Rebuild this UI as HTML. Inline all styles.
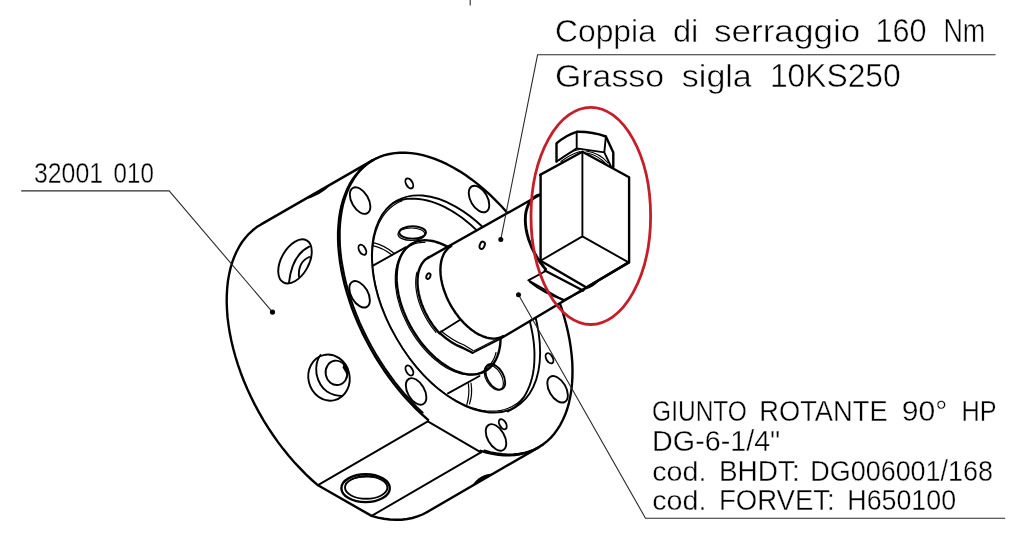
<!DOCTYPE html>
<html><head><meta charset="utf-8"><style>
html,body{margin:0;padding:0;background:#fff;}
svg{display:block;}
text{font-family:"Liberation Sans",sans-serif;fill:#000;stroke:#fff;stroke-width:0.4px;}
path,ellipse{fill:none;stroke:#000;stroke-linejoin:round;stroke-linecap:round;}
.k{stroke-width:2.4}
.k2{stroke-width:2.9}
.m{stroke-width:1.9}
.t{stroke-width:1.2}
.l{stroke-width:1.1;stroke:#2a2a2a;stroke-linecap:butt}
.fk{fill:#000;stroke:none}
.w{fill:#fff;stroke:none}
.red{fill:none;stroke:#c61e28;stroke-width:2.8}
</style></head><body>
<svg width="1024" height="533" viewBox="0 0 1024 533">
<path d="M372.4 160.4L261.1 224.4L256.7 227.1L252.7 230.3L248.9 233.8L245.4 237.7L242.1 242L239.2 246.7L236.5 251.7L234.2 257L232.1 262.7L230.4 268.6L229 274.9L227.9 281.4L227.2 288.1L226.8 295.1L226.7 302.3L227 309.6L227.5 317.2L228.5 324.8L229.7 332.6L231.3 340.5L233.2 348.5L235.4 356.5L237.9 364.6L240.7 372.7L243.8 380.8L247.2 388.8L250.9 396.8L254.8 404.6L259 412.4L263.4 420.1L268.1 427.6L273 435L278 442.1L283.3 449.1L288.7 455.8L294.3 462.2L300.1 468.4L305.9 474.4L311.9 480L318 485.3L371.6 515.9L371.6 515.9L377.8 517.6L383.9 518.8L390 519.5L395.8 519.8L401.5 519.7L407.1 519L412.4 518L417.5 516.4L422.5 514.5L427.2 512" class="k"/>
<path class="fk" d="M304 199.8Q320 196.5 332 183.8Z"/>
<path d="M427.2 512L538.2 447.6" class="k"/>
<path class="fk" d="M471.5 486.6Q479.5 473.5 494.5 473.6Z"/>
<path d="M318 485.1L427.8 421.4" class="m"/>
<path d="M371.6 515.9L480.9 452.4" class="m"/>
<path d="M427.8 421.4L480.9 452.4" class="m"/>
<path d="M428.1 419.9L422.2 414.7L416.3 409.1L410.6 403.2L405 397.1L399.5 390.7L394.1 384.1L389 377.2L384 370.2L379.2 362.9L374.6 355.5L370.3 348L366.2 340.3L362.3 332.6L358.7 324.7L355.3 316.8L352.2 308.9L349.5 300.9L347 293L344.8 285.1L342.9 277.2L341.3 269.4L340 261.7L339.1 254.2L338.4 246.7L338.1 239.5L338.1 232.4L338.5 225.5L339.1 218.8L340.1 212.3L341.4 206.1L343 200.2L345 194.6L347.2 189.2L349.7 184.2L352.5 179.5L355.7 175.2L359 171.2L362.7 167.5L366.6 164.3L370.7 161.4L375.1 159L379.7 156.9L384.5 155.2L389.5 154L394.7 153.1L400 152.7L405.5 152.7L411.2 153.1L416.9 153.9L422.8 155.2L428.8 156.8L434.8 158.9L440.9 161.4L447 164.2L453.2 167.5L459.3 171.1L465.5 175.1L471.6 179.4L477.7 184.1L483.7 189.1L489.6 194.4L495.4 200.1L501.2 206L506.8 212.2L512.2 218.6L517.5 225.3L522.7 232.2L527.6 239.3L532.3 246.6L536.9 254L541.2 261.6L545.3 269.2L549.1 277L552.6 284.9L555.9 292.8L558.9 300.7L561.7 308.7L564.1 316.6L566.2 324.5L568.1 332.4L569.6 340.1L570.8 347.8L571.7 355.3L572.3 362.8L572.5 370L572.4 377.1L572 383.9L571.3 390.6L570.2 397L568.9 403.1L567.2 409L565.2 414.6L562.9 419.8L560.3 424.8L557.4 429.4L554.3 433.7L550.9 437.6L547.2 441.1L543.2 444.3L539 447.1L534.6 449.5L530 451.5L525.1 453.1L520.1 454.2L514.8 455L509.5 455.3L503.9 455.2L498.3 454.7L492.5 453.8L486.6 452.5L480.6 450.8" class="k"/>
<path d="M422.7 412.7L416.9 407.1L411.2 401.2L405.6 395L400.2 388.6L394.9 382L389.8 375.1L384.8 368L380.1 360.8L375.6 353.4L371.3 345.9L367.2 338.2L363.4 330.4L359.8 322.6L356.5 314.7L353.5 306.8L350.7 298.9L348.3 291L346.1 283.1L344.3 275.3L342.8 267.5L341.5 259.9L340.6 252.3L340 245L339.8 237.7L339.8 230.7L340.2 223.8L340.9 217.2L341.9 210.8L343.2 204.6L344.9 198.7L346.8 193.1L349 187.8L351.6 182.9L354.4 178.2L357.5 173.9L360.9 170L364.6 166.4L368.5 163.1L372.6 160.3L377 157.9" class="m"/>
<path d="M542.7 444.9L538.3 447.5L533.7 449.7L528.9 451.5L523.9 452.8L518.7 453.8L513.3 454.3L507.8 454.4L502.1 454L496.3 453.3L490.4 452.1L484.4 450.5" class="m"/>
<ellipse cx="456" cy="304" rx="119" ry="68.7" transform="rotate(60 456 304)" class="m"/>
<path d="M522.6 398.4L520 400.9L517.3 403.2L514.4 405.1L511.3 406.9L508.1 408.3L504.7 409.5L501.2 410.3L497.5 410.9L493.7 411.2L489.9 411.2L485.9 410.9L481.9 410.3L477.7 409.4L473.6 408.2L469.3 406.8L465 405.1L460.7 403L456.4 400.8L452.1 398.2L447.8 395.4L443.5 392.4L439.2 389.1L435 385.6L430.8 381.8L426.7 377.9L422.7 373.7L418.8 369.4L415 364.9L411.2 360.2L407.6 355.3L404.1 350.4L400.8 345.3L397.6 340.1L394.6 334.7L391.7 329.4L389 323.9L386.5 318.4L384.2 312.8L382.1 307.3L380.1 301.7L378.4 296.1L376.9 290.5L375.6 285L374.5 279.6L373.7 274.2L373 268.9L372.6 263.7L372.4 258.6L372.4 253.6L372.7 248.8L373.2 244.1L373.9 239.6L374.8 235.3L376 231.1L377.4 227.2L378.9 223.4L380.7 219.9L382.7 216.7L384.9 213.6L387.3 210.8L389.9 208.3L392.6 206L395.6 204.1L398.6 202.3L401.9 200.9" class="t"/>
<path d="M393 203.1L396.3 201.6L399.7 200.4L403.3 199.5L407 198.9L410.9 198.7L414.8 198.7L418.8 199L423 199.6L427.2 200.5L431.4 201.7L435.7 203.1L440.1 204.9L444.5 206.9L448.9 209.3L453.3 211.9L457.7 214.7L462.1 217.8L466.4 221.2L470.7 224.7L474.9 228.6L479.1 232.6L483.2 236.8L487.2 241.2L491.1 245.8L494.9 250.6L498.6 255.5L502.1 260.6L505.5 265.8L508.8 271.1L511.9 276.5L514.8 282L517.5 287.6L520.1 293.2L522.5 298.9L524.6 304.5L526.6 310.2L528.4 315.9L529.9 321.6L531.2 327.2L532.3 332.7L533.2 338.2L533.9 343.6L534.3 349L534.5 354.1L534.4 359.2L534.2 364.1L533.7 368.9L533 373.5L532 377.9L530.8 382.1L529.4 386.1L527.8 389.9L526 393.5L524 396.9L521.7 399.9L519.3 402.8L516.7 405.4L513.9 407.7L510.9 409.7L507.8 411.4" class="m"/>
<ellipse cx="360.1" cy="200.6" rx="14.5" ry="8.4" transform="rotate(60 360.1 200.6)" class="m"/>
<ellipse cx="479" cy="199" rx="14.5" ry="8.4" transform="rotate(60 479 199)" class="m"/>
<ellipse cx="359.6" cy="294.3" rx="14.5" ry="8.4" transform="rotate(60 359.6 294.3)" class="m"/>
<ellipse cx="416.1" cy="391.4" rx="14.5" ry="8.4" transform="rotate(60 416.1 391.4)" class="m"/>
<ellipse cx="496" cy="437.4" rx="14.5" ry="8.4" transform="rotate(60 496 437.4)" class="m"/>
<ellipse cx="557.6" cy="389.3" rx="14.5" ry="8.4" transform="rotate(60 557.6 389.3)" class="m"/>
<ellipse cx="409.3" cy="183.4" rx="5.5" ry="3.2" transform="rotate(60 409.3 183.4)" class="m"/>
<ellipse cx="362.4" cy="249.8" rx="5.5" ry="3.2" transform="rotate(60 362.4 249.8)" class="m"/>
<ellipse cx="409.4" cy="370.5" rx="5.5" ry="3.2" transform="rotate(60 409.4 370.5)" class="m"/>
<ellipse cx="549.5" cy="358.3" rx="5.5" ry="3.2" transform="rotate(60 549.5 358.3)" class="m"/>
<ellipse cx="502.8" cy="424.2" rx="5.5" ry="3.2" transform="rotate(60 502.8 424.2)" class="m"/>
<ellipse cx="495.3" cy="376.8" rx="14" ry="8.1" transform="rotate(60 495.3 376.8)" class="m"/>
<ellipse cx="493.8" cy="377.6" rx="13.6" ry="7.8" transform="rotate(60 493.8 377.6)" class="t"/>
<path d="M373 265.6L406 247.2" class="m"/>
<path d="M448 393.3L479.5 376" class="m"/>
<path d="M373 242.6Q384 245 394 253.2M372.8 245.6Q383 247.8 392 255" class="t"/>
<path d="M468.3 383.5Q470 394 466.8 404.6M471 383Q472.8 394 469.5 404" class="t"/>
<ellipse class="m" cx="412.6" cy="232.4" rx="13.4" ry="6.2"/>
<ellipse class="t" cx="411.4" cy="234.2" rx="13.4" ry="6.2"/>
<path d="M448.6 247.4L445.9 245.9L443.1 244.6L440.4 243.4L437.7 242.5L435.1 241.7L432.5 241L429.9 240.6L427.4 240.4L424.9 240.3L422.5 240.4L420.2 240.7L417.9 241.2L415.8 241.9L413.7 242.8L411.7 243.8L409.9 245L408.1 246.4L406.4 248L404.9 249.7L403.5 251.5L402.2 253.6L401 255.8L400 258.1L399.1 260.5L398.3 263.1L397.7 265.8L397.2 268.7L396.9 271.6L396.7 274.6L396.6 277.7L396.7 280.9L397 284.2L397.3 287.6L397.9 290.9L398.5 294.4L399.3 297.9L400.2 301.4L401.3 304.9L402.5 308.4L403.8 311.9L405.3 315.4L406.8 318.9L408.5 322.4L410.3 325.8L412.2 329.2L414.2 332.5L416.3 335.7L418.5 338.9L420.7 341.9L423.1 344.9L425.5 347.8L428 350.5L430.5 353.2L433.1 355.7L435.7 358.1L438.4 360.3L441.1 362.4L443.8 364.3L446.5 366.1L449.2 367.8L452 369.2L454.7 370.5L457.4 371.6L460.1 372.5L462.7 373.3L465.3 373.9L467.9 374.3L470.4 374.5L472.8 374.5L475.2 374.3L477.5 374L479.7 373.4L481.9 372.7L483.9 371.8L485.9 370.7L487.7 369.5L489.5 368.1L491.1 366.5L492.6 364.7L494 362.8L495.3 360.7L496.4 358.5L497.4 356.2L498.3 353.7L499 351.1L499.6 348.3L500.1 345.5L500.4 342.5L500.5 339.5" class="k"/>
<path d="M424.8 242.4L422.4 242.4L420.1 242.6L417.8 243L415.6 243.5L413.5 244.3L411.5 245.2L409.5 246.3L407.7 247.5L406 248.9L404.4 250.5L402.9 252.3L401.6 254.2L400.3 256.3L399.2 258.5L398.2 260.8L397.4 263.3L396.7 265.9L396.1 268.7L395.7 271.5L395.4 274.5L395.3 277.5L395.3 280.6L395.4 283.8L395.7 287.1L396.2 290.5L396.7 293.8L397.4 297.3L398.3 300.7L399.3 304.2L400.4 307.7L401.6 311.2L403 314.7L404.5 318.1L406.1 321.6L407.8 325L409.6 328.4L411.6 331.7L413.6 334.9L415.7 338.1L417.9 341.2L420.2 344.2L422.6 347.1L425 349.8L427.5 352.5L430 355.1L432.6 357.5L435.2 359.8L437.9 361.9L440.5 363.9L443.2 365.8L445.9 367.4L448.7 369L451.4 370.3L454 371.5L456.7 372.5L459.3 373.3L461.9 374L464.5 374.4L467 374.7L469.5 374.8L471.9 374.7L474.2 374.4L476.4 373.9L478.6 373.3L480.6 372.5L482.6 371.5L484.5 370.3L486.2 369L487.9 367.4L489.4 365.8L490.9 363.9L492.1 361.9L493.3 359.8L494.4 357.5L495.3 355.1L496 352.5" class="t"/>
<path d="M428.3 257.5L427 258.4L425.7 259.3L424.5 260.4L423.4 261.7L422.4 263L421.5 264.4L420.7 266L419.9 267.6L419.3 269.3L418.7 271.2L418.3 273.1L417.9 275.1L417.7 277.1L417.5 279.3L417.5 281.5L417.5 283.8L417.7 286.1L417.9 288.5L418.3 290.9L418.7 293.3L419.3 295.8L419.9 298.3L420.7 300.8L421.5 303.3L422.4 305.8L423.4 308.3L424.5 310.7L425.7 313.2L427 315.6L428.3 318L429.7 320.4L431.2 322.7L432.7 324.9L434.3 327.1L436 329.2L437.7 331.3L439.4 333.3" class="k"/>
<path d="M417 272.2L416.5 274.1L416.2 276.1L415.9 278.1L415.8 280.3L415.7 282.5L415.8 284.8L415.9 287.1L416.2 289.5L416.5 291.9L417 294.3L417.5 296.8L418.2 299.3L418.9 301.8L419.8 304.3L420.7 306.8L421.7 309.3L422.8 311.7L424 314.2L425.2 316.6L426.6 319L428 321.4L429.5 323.7L431 325.9L432.6 328.1L434.3 330.2L436 332.3" class="t"/>
<path d="M439.5 332.8L459.8 320" class="m"/>
<path d="M439.5 332.8Q452 344 462 347.5L472.5 352.8" class="k"/>
<path d="M441 331Q454 341.5 464 345L473 350.5" class="t"/>
<path d="M472.5 353L501 338.5" class="m"/>
<path d="M474 350.8L500 337.5" class="t"/>
<path class="w" d="M451.2 246.1L449.9 246.9L448.6 247.9L447.5 249L446.4 250.2L445.4 251.5L444.4 252.9L443.6 254.4L442.9 256.1L442.2 257.8L441.7 259.6L441.2 261.5L440.9 263.5L440.6 265.5L440.5 267.7L440.4 269.9L440.5 272.1L440.6 274.4L440.9 276.8L441.2 279.2L441.7 281.6L442.2 284L442.9 286.5L443.6 289L444.5 291.5L445.4 293.9L446.4 296.4L447.5 298.9L448.6 301.3L449.9 303.7L451.2 306.1L452.6 308.4L454.1 310.7L455.6 313L457.2 315.1L458.8 317.2L460.5 319.3L462.3 321.2L464 323.1L465.9 324.9L467.7 326.6L469.6 328.2L471.5 329.7L473.4 331.1L475.3 332.4L477.2 333.6L479.1 334.6L481.1 335.5L483 336.4L484.9 337L486.7 337.6L488.6 338L490.4 338.3L492.2 338.5L493.9 338.6L495.6 338.5L497.2 338.3L498.8 337.9L500.3 337.5L501.8 336.9L503.2 336.1L628.6 262.4L629.1 177.2L582.4 151.8L540.1 174.9L539 195.3Z"/>
<path d="M451.2 246.1L449.9 246.9L448.6 247.9L447.5 249L446.4 250.2L445.4 251.5L444.4 252.9L443.6 254.4L442.9 256.1L442.2 257.8L441.7 259.6L441.2 261.5L440.9 263.5L440.6 265.5L440.5 267.7L440.4 269.9L440.5 272.1L440.6 274.4L440.9 276.8L441.2 279.2L441.7 281.6L442.2 284L442.9 286.5L443.6 289L444.5 291.5L445.4 293.9L446.4 296.4L447.5 298.9L448.6 301.3L449.9 303.7L451.2 306.1L452.6 308.4L454.1 310.7L455.6 313L457.2 315.1L458.8 317.2L460.5 319.3L462.3 321.2L464 323.1L465.9 324.9L467.7 326.6L469.6 328.2L471.5 329.7L473.4 331.1L475.3 332.4L477.2 333.6L479.1 334.6L481.1 335.5L483 336.4L484.9 337L486.7 337.6L488.6 338L490.4 338.3L492.2 338.5L493.9 338.6L495.6 338.5L497.2 338.3L498.8 337.9L500.3 337.5L501.8 336.9L503.2 336.1" class="k"/>
<path d="M428 257.9L539 195.3" class="k"/>
<path d="M501 338.2L628.6 262.4" class="k"/>
<path d="M539.2 194.9L537.7 195.4L536.3 196.1L535 196.9L533.7 197.9L532.5 198.9L531.4 200.1L530.4 201.4L529.4 202.8L528.6 204.3L527.8 205.9L527.2 207.7L526.6 209.5L526.1 211.4L525.8 213.3L525.5 215.4L525.4 217.5L525.3 219.7L525.4 222L525.5 224.3L525.8 226.6L526.1 229L526.6 231.4L527.1 233.9L527.8 236.4L528.5 238.9L529.4 241.3L530.3 243.8L531.3 246.3L532.4 248.8L533.6 251.2L534.9 253.6L536.2 256L537.6 258.3L539.1 260.6L540.7 262.8L542.3 265L543.9 267.1L545.6 269.1" class="k2"/>
<ellipse cx="482.2" cy="245.3" rx="3.8" ry="2.4" transform="rotate(-68 482.2 245.3)" class="m"/>
<ellipse cx="428.4" cy="276.1" rx="3" ry="1.9" transform="rotate(-68 428.4 276.1)" class="m"/>
<ellipse class="k" cx="365.6" cy="488.2" rx="24.2" ry="13.9"/>
<ellipse class="m" cx="366.2" cy="487.6" rx="21.2" ry="11.2"/>
<path class="fk" d="M352 478.5Q366 472 380 478.5Q366 475.5 352 479.5Z"/>
<path d="M540.1 174.9L582.4 151.8L629.1 177.2V262.4L586.5 287.5L540.6 260.7V174.9Z" class="k"/>
<path d="M582.4 151.8V236.4L540.6 260.7M582.4 236.4L628.6 262.4" class="m"/>
<path d="M544.8 270.5L583 290.5" class="k"/>
<path d="M544.8 271.5L528.3 280.3L563.3 300.4L584 290" class="m"/>
<path d="M530 282Q545 294 563 299.5" class="m"/>
<path class="fk" d="M584.5 290Q594 287.5 600.5 279.5Z"/>
<path d="M556.5 161.5V143.4Q566 135 576.7 131.8Q592 131.5 605.9 136.5L613.3 152.4V167" class="k"/>
<path d="M576.7 131.8V148.4L556.5 161.5M576.7 148.4L604.3 152.4L611 166.5M605.9 136.5L604.3 152.4" class="m"/>
<path d="M559.5 160Q568 152 579 149.5M586 151Q600 153 608 163" class="t"/>
<path d="M561 161.5Q570 154.5 580 151.5M587 153Q598 155 606 164" class="t"/>
<ellipse class="m" cx="295" cy="261.4" rx="24" ry="13.8" transform="rotate(-61 295 261.4)"/>
<path d="M309.2 246.7Q292 255 289 282.7" class="m"/>
<path d="M309.2 257Q298 262 298.9 276.7" class="m"/>
<ellipse class="m" cx="329" cy="377.6" rx="23.2" ry="20.6" transform="rotate(76 329 377.6)"/>
<path d="M320.5 355Q315 362 316.5 374Q319 386 327 391.5Q334 396 342 396" class="m"/>
<ellipse class="m" cx="336.5" cy="372.8" rx="12.2" ry="10.9" transform="rotate(80 336.5 372.8)"/>
<path class="fk" d="M343.5 364.5Q348 369 347.5 377Q345 371 342.5 367.5Z"/>

<path class="l" d="M470.2 0V5.5" style="stroke-linecap:butt"/>
<path class="l" d="M995.6 54.7H537.6L500.8 239.4"/>
<circle cx="500.8" cy="239.4" r="2.5"/>
<path class="l" d="M21.2 190.9H169.2L272.5 312.1"/>
<circle cx="272.5" cy="312.1" r="2.6"/>
<path class="l" d="M1005.2 518.2H645.5L518.5 294.8"/>
<circle cx="518.5" cy="294.8" r="2.5"/>
<ellipse class="red" cx="590.8" cy="215.9" rx="59.8" ry="108.6"/>
<g style="filter:grayscale(1)"><text x="554.9" y="41.7" font-size="30.9" textLength="101" lengthAdjust="spacingAndGlyphs" style="stroke-width:0.5px">Coppia</text>
<text x="672.9" y="41.7" font-size="30.9" textLength="25.4" lengthAdjust="spacingAndGlyphs" style="stroke-width:0.5px">di</text>
<text x="713.9" y="41.7" font-size="30.9" textLength="146.4" lengthAdjust="spacingAndGlyphs" style="stroke-width:0.5px">serraggio</text>
<text x="875.4" y="41.7" font-size="32.9" textLength="51.1" lengthAdjust="spacingAndGlyphs" style="stroke-width:0.5px">160</text>
<text x="943.4" y="41.7" font-size="32.9" textLength="41.9" lengthAdjust="spacingAndGlyphs" style="stroke-width:0.5px">Nm</text>
<text x="554.9" y="87.3" font-size="30.9" textLength="109.3" lengthAdjust="spacingAndGlyphs" style="stroke-width:0.5px">Grasso</text>
<text x="681.8" y="87.3" font-size="30.9" textLength="70" lengthAdjust="spacingAndGlyphs" style="stroke-width:0.5px">sigla</text>
<text x="769.9" y="87.3" font-size="32.9" textLength="130.8" lengthAdjust="spacingAndGlyphs" style="stroke-width:0.5px">10KS250</text>
<text x="33.9" y="182.9" font-size="29.3" textLength="69.2" lengthAdjust="spacingAndGlyphs" style="stroke-width:0.35px">32001</text>
<text x="113.6" y="182.9" font-size="29.3" textLength="40.2" lengthAdjust="spacingAndGlyphs" style="stroke-width:0.35px">010</text>
<text x="652.1" y="420.9" font-size="28.8" textLength="94.8" lengthAdjust="spacingAndGlyphs" style="stroke-width:0.35px">GIUNTO</text>
<text x="759.3" y="420.9" font-size="28.8" textLength="128.3" lengthAdjust="spacingAndGlyphs" style="stroke-width:0.35px">ROTANTE</text>
<text x="901.7" y="420.9" font-size="28.8" textLength="45.6" lengthAdjust="spacingAndGlyphs" style="stroke-width:0.35px">90°</text>
<text x="961.5" y="420.9" font-size="28.8" textLength="35" lengthAdjust="spacingAndGlyphs" style="stroke-width:0.35px">HP</text>
<text x="652.1" y="450.9" font-size="28.8" textLength="128.2" lengthAdjust="spacingAndGlyphs" style="stroke-width:0.35px">DG-6-1/4&quot;</text>
<text x="652.2" y="480.9" font-size="27.3" textLength="54.2" lengthAdjust="spacingAndGlyphs" style="stroke-width:0.35px">cod.</text>
<text x="718.9" y="480.9" font-size="28.8" textLength="80.8" lengthAdjust="spacingAndGlyphs" style="stroke-width:0.35px">BHDT:</text>
<text x="810.3" y="480.9" font-size="28.8" textLength="182.7" lengthAdjust="spacingAndGlyphs" style="stroke-width:0.35px">DG006001/168</text>
<text x="652.2" y="510.4" font-size="27.3" textLength="54.2" lengthAdjust="spacingAndGlyphs" style="stroke-width:0.35px">cod.</text>
<text x="718.9" y="510.4" font-size="28.8" textLength="115.9" lengthAdjust="spacingAndGlyphs" style="stroke-width:0.35px">FORVET:</text>
<text x="847.3" y="510.4" font-size="28.8" textLength="108.8" lengthAdjust="spacingAndGlyphs" style="stroke-width:0.35px">H650100</text>
</g></svg>
</body></html>
